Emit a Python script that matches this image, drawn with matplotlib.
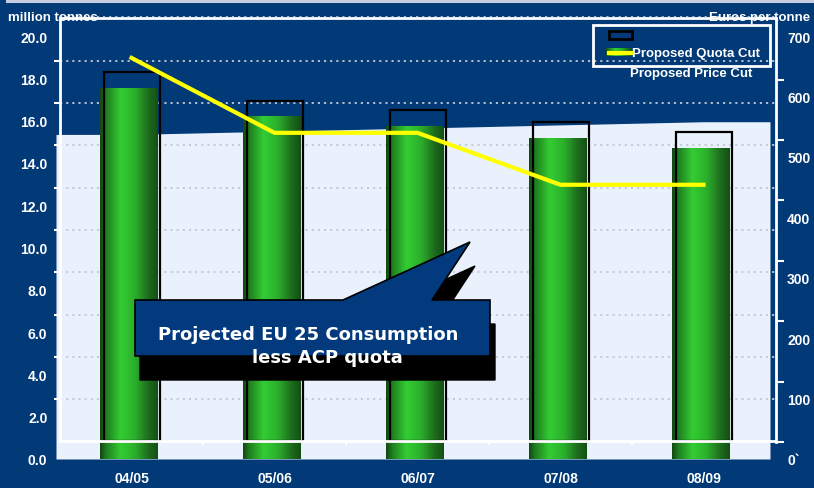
import numpy as np
import matplotlib
matplotlib.use("Agg")
import matplotlib.pyplot as plt
from matplotlib.colors import LinearSegmentedColormap
from matplotlib.patches import Rectangle, Polygon

# data
seasons = ["04/05", "05/06", "06/07", "07/08", "08/09"]
quota_cut = [17.55, 16.2, 15.75, 15.2, 14.7]      # green bars, million tonnes
quota_now = [18.3, 16.95, 16.5, 15.95, 15.45]     # outlined bars, million tonnes
price_cut = [664, 540, 540, 454, 454]             # euros per tonne
consumption = [15.35, 15.5, 15.65, 15.8, 15.95]   # EU 25 consumption less ACP quota

left_ticks = np.arange(0, 21, 2)
left_labels = [f"{v:.1f}" for v in left_ticks]
right_ticks = np.arange(0, 701, 100)
right_labels = ["0`"] + [str(v) for v in right_ticks[1:]]

BG = "#023977"
LIGHT = "#e9f2fc"
GRID = "#c3c8d2"
W, H = 814, 489

plt.rcParams["font.family"] = ["Liberation Sans", "DejaVu Sans"]
plt.rcParams["font.weight"] = "bold"

green = LinearSegmentedColormap.from_list(
    "bar", [(0, "#124a12"), (0.1, "#1f7d1f"), (0.35, "#33cc33"),
            (0.6, "#2bb02b"), (0.85, "#1d6b1d"), (1, "#145014")])
grad = np.linspace(0, 1, 64).reshape(1, -1)


def px_box(l, t, r, b):
    return [l / W, 1 - b / H, (r - l) / W, (b - t) / H]


fig = plt.figure(figsize=(W / 100, H / 100), dpi=100, facecolor=BG)
ax = fig.add_axes(px_box(60, 17, 776, 460))
ax.set_facecolor(BG)
xlim = (-0.5, 4.507)
ylim = (0, 20.95)
base = 0.83
x = np.arange(len(seasons))

# light background area
xa = np.concatenate([[-0.528], x, [4.465]])
ya = np.concatenate([[consumption[0]], consumption, [consumption[-1]]])
ax.fill_between(xa, 0, ya, color=LIGHT, lw=0, zorder=0.5, clip_on=False)

# dotted grid
grid_y = base + 2 * np.arange(1, 10)
ax.hlines(list(grid_y) + [20.93], xlim[0], xlim[1], colors=GRID,
          linestyles=(0, (1.2, 2.2)), lw=1.3, zorder=1)

# gradient bars
bars = ax.bar(x - 0.02, quota_cut, width=0.405, color="none", lw=0, zorder=2)
for b in bars:
    im = ax.imshow(grad, cmap=green, aspect="auto", zorder=2,
                   extent=(b.get_x(), b.get_x() + b.get_width(), 0, b.get_height()))
    im.set_clip_path(b)

ax.bar(x + 0.005, np.array(quota_now) - base, bottom=base, width=0.39,
       fill=False, edgecolor="black", lw=1.6, zorder=3)

# white axis lines
ax.axhline(base, color="white", lw=2, zorder=4)
ax.axhline(20.85, color="white", lw=2, zorder=4)
ax.vlines(x[:-1] + 0.5, base - 0.15, base, color="white", lw=1.5, zorder=4)

ax.set_xlim(*xlim)
ax.set_ylim(*ylim)
for s in ["top", "right", "bottom"]:
    ax.spines[s].set_visible(False)
ax.spines["left"].set_color("white")
ax.spines["left"].set_linewidth(2)
ax.spines["left"].set_bounds(base, 20.85)

ax.set_xticks(x, seasons)
ax.tick_params(axis="x", length=0, pad=9, labelcolor="white", labelsize=10)
ax.set_yticks(left_ticks, left_labels)
ax.set_yticks(grid_y, minor=True)
ax.tick_params(axis="y", which="major", length=0, pad=9, labelcolor="white", labelsize=10)
ax.tick_params(axis="y", which="minor", length=4, width=1.5, color="white", direction="out")

# price line on right axis
ax2 = ax.twinx()
ax2.set_ylim(0, 733.4)
ax2.plot(x, price_cut, color="#ffff00", lw=3, zorder=5)
for s in ["top", "left", "bottom"]:
    ax2.spines[s].set_visible(False)
ax2.spines["right"].set_color("white")
ax2.spines["right"].set_linewidth(2)
ax2.spines["right"].set_bounds(28, 730)
ax2.set_yticks(right_ticks, right_labels)
ax2.set_yticks(28 + 100 * np.arange(7), minor=True)
ax2.tick_params(axis="y", which="major", length=0, pad=8, labelcolor="white", labelsize=10)
ax2.tick_params(axis="y", which="minor", length=6, width=1.5, color="white", direction="out")

# overlay in pixel coordinates for titles, legend and callout
ov = fig.add_axes([0, 0, 1, 1])
ov.set_xlim(0, W)
ov.set_ylim(H, 0)
ov.axis("off")

ov.plot([7, W], [1.5, 1.5], color="#c5cde0", lw=2.2)
ov.text(8, 18, "million tonnes", color="white", fontsize=9.5, va="center")
ov.text(709, 18, "Euros per tonne", color="white", fontsize=9.5, va="center")

# legend (drawn as in the slide)
ov.add_patch(Rectangle((593, 26), 177, 41, fill=False, ec="white", lw=2))
ov.add_patch(Rectangle((609, 32), 23, 8, fill=False, ec="black", lw=2))
ov.imshow(grad, cmap=green, aspect="auto", extent=(606, 632, 57, 49), zorder=3)
ov.plot([609, 632], [54, 54], color="#ffff00", lw=3, zorder=4)
ov.text(632, 54, "Proposed Quota Cut", color="white", fontsize=9.5, va="center")
ov.text(630, 74, "Proposed Price Cut", color="white", fontsize=9.5, va="center")

# callout
shape = np.array([(135, 301), (343, 301), (470, 243), (432, 301),
                  (490, 301), (490, 357), (135, 357)])
ov.add_patch(Polygon(shape + [5, 24], closed=True, fc="black", ec="black", lw=1, zorder=5))
ov.add_patch(Polygon(shape, closed=True, fc="#033a7e", ec="black", lw=1.2, zorder=6))
ov.text(308, 335, "Projected EU 25 Consumption", color="white", fontsize=13,
        family="DejaVu Sans", ha="center", va="center", zorder=7)
ov.text(327, 358, "less ACP quota", color="white", fontsize=13,
        family="DejaVu Sans", ha="center", va="center", zorder=7)
ov.set_xlim(0, W)
ov.set_ylim(H, 0)

fig.savefig("out.png", dpi=100, facecolor=BG)
